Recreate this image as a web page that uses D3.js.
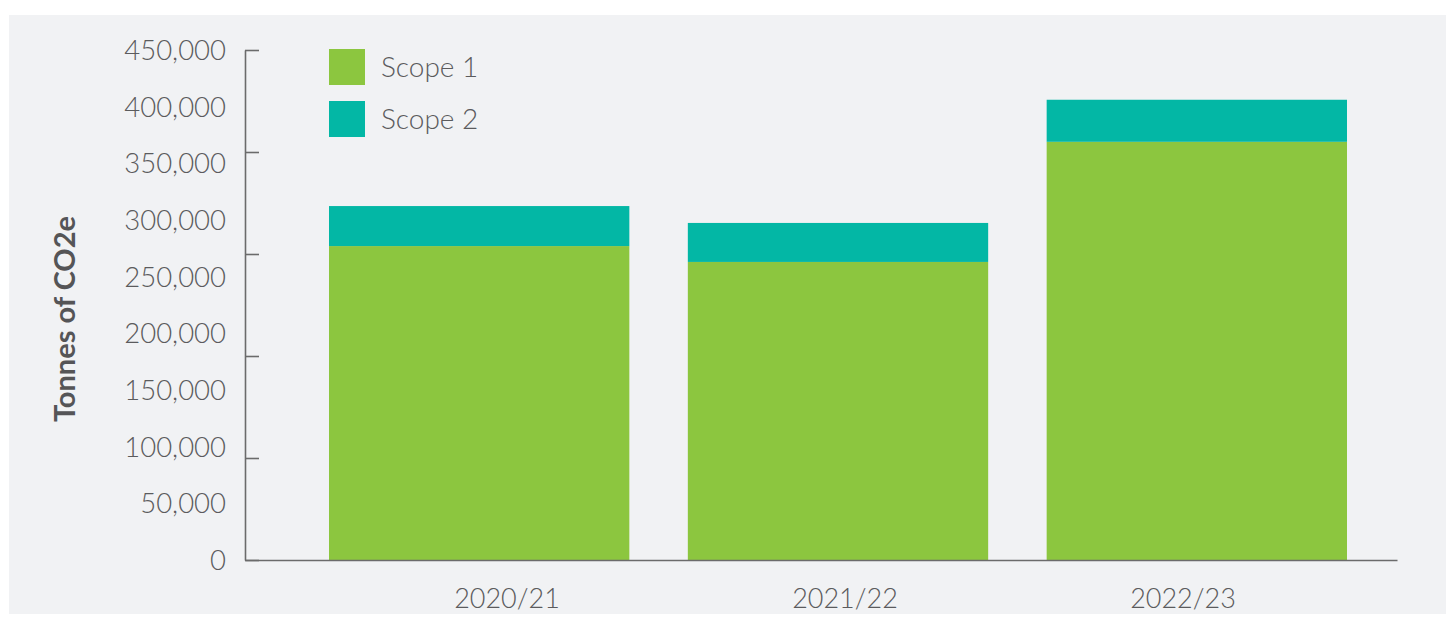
<!DOCTYPE html>
<html><head><meta charset="utf-8">
<script src="https://cdn.jsdelivr.net/npm/d3@7"></script>
<style>
html,body{margin:0;padding:0;background:#fff;}
svg{display:block;}
</style></head>
<body>
<svg id="chart" width="1452" height="617"></svg>
<script>
const categories = ["2020/21", "2021/22", "2022/23"];
const scope1 = [277000, 263000, 369000];
const scope2 = [35300, 34400, 37100];
const seriesNames = ["Scope 1", "Scope 2"];
const seriesColors = ["#8cc63f", "#03b7a5"];
const tickLabels = [0, 50000, 100000, 150000, 200000, 250000, 300000, 350000, 400000, 450000];
const tickMarks = [0, 90000, 180000, 270000, 360000, 450000];

const svg = d3.select("#chart");
const font = "Lato, 'Liberation Sans', sans-serif";
const textColor = "#5b5b5d";

svg.append("rect").attr("x", 9).attr("y", 15).attr("width", 1437).attr("height", 599).attr("fill", "#f1f2f4");

const y = d3.scaleLinear().domain([0, 450000]).range([560, 50]);
const x = d3.scaleBand().domain(categories).range([329, 1347]).paddingInner(0.163).paddingOuter(0);
const xLabel = d3.scalePoint().domain(categories).range([507, 1183]);

const rows = categories.map((c, i) => ({cat: c, "Scope 1": scope1[i], "Scope 2": scope2[i]}));
const stack = d3.stack().keys(seriesNames)(rows);

svg.append("g").selectAll("g").data(stack).join("g")
  .attr("fill", (d, i) => seriesColors[i])
  .selectAll("rect").data(d => d).join("rect")
  .attr("x", d => x(d.data.cat))
  .attr("width", x.bandwidth())
  .attr("y", d => y(d[1]))
  .attr("height", d => y(d[0]) - y(d[1]));

// y axis line with inward ticks
const yAxis = d3.axisRight(y).tickValues(tickMarks).tickSize(14).tickFormat("").tickSizeOuter(0);
const gy = svg.append("g").attr("transform", "translate(245,0)").call(yAxis);
gy.selectAll("path,line").attr("stroke", "#6b6b6b").attr("stroke-width", 1.6);

// x axis baseline
const gx = svg.append("g").attr("transform", "translate(0,560)")
  .call(d3.axisBottom(d3.scaleLinear().range([245, 1397])).ticks(0).tickSizeOuter(0));
gx.selectAll("path").attr("stroke", "#6b6b6b").attr("stroke-width", 1.6);

// y tick labels
const fmt = d3.format(",");
svg.append("g").selectAll("text").data(tickLabels).join("text")
  .attr("x", 226).attr("y", d => y(d)).attr("dy", "0.36em")
  .attr("text-anchor", "end")
  .attr("font-family", font).attr("font-weight", 300).attr("font-size", 27.5)
  .attr("fill", textColor).text(d => fmt(d));

// x labels
svg.append("g").selectAll("text").data(categories).join("text")
  .attr("x", d => xLabel(d)).attr("y", 608)
  .attr("text-anchor", "middle")
  .attr("font-family", font).attr("font-weight", 300).attr("font-size", 27)
  .attr("fill", textColor).text(d => d);

// y title
svg.append("text")
  .attr("transform", "translate(75,319) rotate(-90)")
  .attr("text-anchor", "middle")
  .attr("font-family", font).attr("font-weight", 700).attr("font-size", 29)
  .attr("fill", "#555557").text("Tonnes of CO2e");

// legend
const leg = svg.append("g").selectAll("g").data(seriesNames).join("g")
  .attr("transform", (d, i) => `translate(329,${49 + i * 52})`);
leg.append("rect").attr("width", 36).attr("height", 36).attr("fill", (d, i) => seriesColors[i]);
leg.append("text").attr("x", 52).attr("y", 18).attr("dy", "0.36em")
  .attr("font-family", font).attr("font-weight", 300).attr("font-size", 28)
  .attr("fill", textColor).text(d => d);
</script>
</body></html>
